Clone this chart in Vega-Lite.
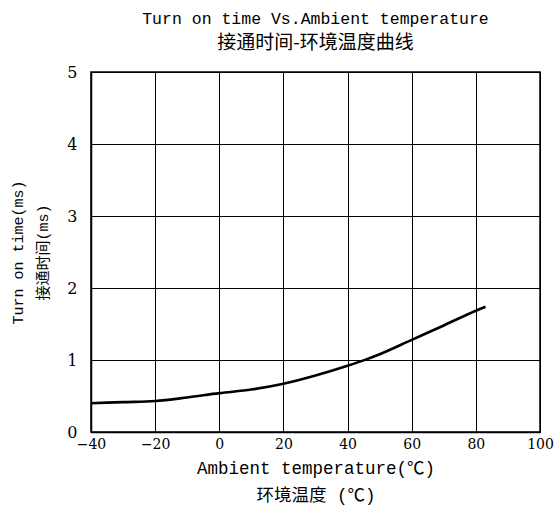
{
  "$schema": "https://vega.github.io/schema/vega-lite/v6.json",
  "width": 449,
  "height": 360,
  "autosize": {"type": "none"},
  "padding": {"left": 91, "top": 72, "right": 14, "bottom": 78},
  "background": "white",
  "title": {
    "text": "Turn on time Vs.Ambient temperature",
    "subtitle": "接通时间-环境温度曲线",
    "font": "Liberation Mono, Noto Sans CJK SC",
    "fontSize": 16.5,
    "fontWeight": "normal",
    "subtitleFont": "Noto Sans CJK SC",
    "subtitleFontSize": 19,
    "subtitleColor": "black",
    "color": "black",
    "anchor": "middle",
    "offset": 11,
    "subtitlePadding": 7
  },
  "config": {
    "view": {"stroke": "black", "strokeWidth": 1.5},
    "axis": {
      "gridColor": "black",
      "gridOpacity": 1,
      "gridWidth": 1,
      "domainColor": "black",
      "domainWidth": 1.5,
      "ticks": false,
      "labelFont": "DejaVu Serif",
      "labelFontSize": 14,
      "labelColor": "black",
      "labelFlush": false,
      "labelBound": false,
      "titleFont": "Liberation Mono, Noto Sans CJK SC",
      "titleFontSize": 16,
      "titleFontWeight": "normal",
      "titleColor": "black"
    }
  },
  "data": {
    "values": [
      {"T": -40, "t": 0.40},
      {"T": -30, "t": 0.415},
      {"T": -20, "t": 0.43},
      {"T": -10, "t": 0.48},
      {"T": 0, "t": 0.54},
      {"T": 10, "t": 0.59},
      {"T": 20, "t": 0.67},
      {"T": 30, "t": 0.785},
      {"T": 40, "t": 0.92},
      {"T": 45, "t": 0.995},
      {"T": 50, "t": 1.08},
      {"T": 60, "t": 1.28},
      {"T": 70, "t": 1.48},
      {"T": 80, "t": 1.685},
      {"T": 83, "t": 1.74}
    ]
  },
  "mark": {"type": "line", "color": "black", "strokeWidth": 2.6, "interpolate": "monotone"},
  "encoding": {
    "x": {
      "field": "T",
      "type": "quantitative",
      "scale": {"domain": [-40, 100], "nice": false, "zero": false},
      "axis": {
        "values": [-40, -20, 0, 20, 40, 60, 80, 100],
        "labelPadding": 5,
        "title": ["Ambient temperature(℃)", "环境温度 (℃)"],
        "titleFontSize": 17.5,
        "titlePadding": 8,
        "titleLineHeight": 27
      }
    },
    "y": {
      "field": "t",
      "type": "quantitative",
      "scale": {"domain": [0, 5], "nice": false},
      "axis": {
        "values": [0, 1, 2, 3, 4, 5],
        "labelPadding": 14,
        "labelFontSize": 16,
        "title": ["Turn on time(ms)", "接通时间(ms)"],
        "titleFontSize": 15,
        "titlePadding": 16,
        "titleLineHeight": 25
      }
    }
  }
}
